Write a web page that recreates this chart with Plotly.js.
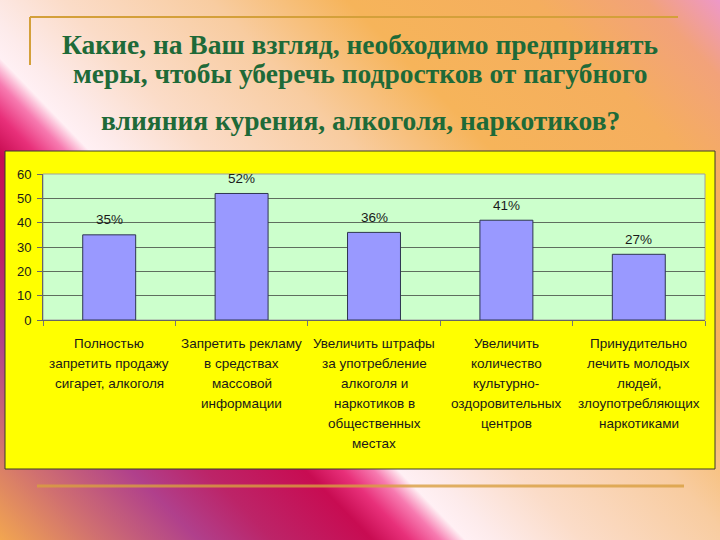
<!DOCTYPE html>
<html>
<head>
<meta charset="utf-8">
<script src="https://cdn.plot.ly/plotly-3.0.1.min.js"></script>
<style>
html, body { margin:0; padding:0; width:720px; height:540px; overflow:hidden; }
body {
  background: linear-gradient(226deg,
    #EE98C8 0%, #F2A27A 6%, #F5AE5E 15%, #F6B45A 30%, #F8CCA0 41%,
    #FBDCC8 53%, #FDEBEB 60%, #FFF0F4 62.5%, #F77AB0 64.5%, #E8307A 67%,
    #C80C52 70%, #BC2468 78%, #B0408C 84%, #D07070 92%, #F2A650 100%);
}
#chart { width:720px; height:540px; }
</style>
</head>
<body>
<div id="chart"></div>
<script>
// ---- data ----
const titleLines = [
  "Какие, на Ваш взгляд, необходимо предпринять",
  "меры, чтобы уберечь подростков от пагубного",
  "влияния курения, алкоголя, наркотиков?"
];
const categoryLines = [
  ["Полностью", "запретить продажу", "сигарет, алкоголя"],
  ["Запретить рекламу", "в средствах", "массовой", "информации"],
  ["Увеличить штрафы", "за употребление", "алкоголя и", "наркотиков в", "общественных", "местах"],
  ["Увеличить", "количество", "культурно-", "оздоровительных", "центров"],
  ["Принудительно", "лечить молодых", "людей,", "злоупотребляющих", "наркотиками"]
];
const categories = categoryLines.map(l => l.join(" "));
const values = [35, 52, 36, 41, 27];
const valueLabels = ["35%", "52%", "36%", "41%", "27%"];
const yTicks = [0, 10, 20, 30, 40, 50, 60];

// ---- layout helpers ----
const W = 720, H = 540;
const M = {l: 43, r: 15, t: 174, b: 220};
const pw = W - M.l - M.r, ph = H - M.t - M.b;
const px = x => (x - M.l) / pw;
const py = y => (H - M.b - y) / ph;

const sansFont = "Liberation Sans, Arial, sans-serif";
const serifFont = "Liberation Serif, Times New Roman, serif";
const titleColor = "#1E6A38";
const titleSize = 27.5;

const annotations = [];
// value labels above bars
categories.forEach((c, i) => {
  annotations.push({
    xref: "x", yref: "y", x: c, y: values[i],
    text: valueLabels[i], showarrow: false,
    yanchor: "middle", yshift: 15,
    font: {family: sansFont, size: 13.5, color: "#1a1a1a"}
  });
});
// multi-line category labels
categoryLines.forEach((lines, i) => {
  lines.forEach((line, j) => {
    annotations.push({
      xref: "x", yref: "paper", x: categories[i], y: 0,
      text: line, showarrow: false,
      yanchor: "middle", yshift: -(23 + j * 20),
      font: {family: sansFont, size: 13.5, color: "#1a1a1a"}
    });
  });
});
// title lines 2 and 3
const titleCenters = [44, 74, 120];
titleLines.slice(1).forEach((t, k) => {
  annotations.push({
    xref: "paper", yref: "paper", x: px(360), y: py(titleCenters[k + 1]),
    text: "<b>" + t + "</b>", showarrow: false,
    xanchor: "center", yanchor: "middle",
    font: {family: serifFont, size: titleSize, color: titleColor}
  });
});

const shapes = [
  // yellow chart box
  {type: "rect", xref: "paper", yref: "paper", layer: "below",
   x0: px(5), x1: px(715), y0: py(469), y1: py(151),
   fillcolor: "#FFFF00", line: {color: "#3a3a2a", width: 1}},
  // green plot area
  {type: "rect", xref: "paper", yref: "paper", layer: "below",
   x0: 0, x1: 1, y0: 0, y1: 1,
   fillcolor: "#CCFFCC", line: {color: "#A0A0A0", width: 1}},
  // decorative gold lines
  {type: "line", xref: "paper", yref: "paper", layer: "below",
   x0: px(30), x1: px(678), y0: py(17), y1: py(17),
   line: {color: "#D4A03A", width: 2}},
  {type: "line", xref: "paper", yref: "paper", layer: "below",
   x0: px(30), x1: px(30), y0: py(17), y1: py(65),
   line: {color: "#D4A03A", width: 2}},
  {type: "line", xref: "paper", yref: "paper", layer: "below",
   x0: px(37), x1: px(684), y0: py(486), y1: py(486),
   opacity: 0.8, line: {color: "#D9A040", width: 3}}
];

const trace = {
  type: "bar",
  x: categories,
  y: values,
  marker: {color: "#9999FF", line: {color: "#2E3550", width: 1}},
  hoverinfo: "x+y"
};

const layout = {
  width: W, height: H,
  margin: M,
  paper_bgcolor: "rgba(0,0,0,0)",
  plot_bgcolor: "rgba(0,0,0,0)",
  showlegend: false,
  bargap: 0.6,
  title: {
    text: "<b>" + titleLines[0] + "</b>",
    x: 0.5, xanchor: "center", xref: "container",
    y: 1 - titleCenters[0] / H, yanchor: "middle", yref: "container",
    font: {family: serifFont, size: titleSize, color: titleColor}
  },
  xaxis: {
    type: "category",
    showticklabels: false,
    ticks: "outside", ticklen: 5, tickcolor: "#777777",
    tickson: "boundaries",
    showline: true, linecolor: "#666666", linewidth: 1,
    showgrid: false, zeroline: false, fixedrange: true
  },
  yaxis: {
    range: [0, 60],
    tickvals: yTicks,
    ticks: "outside", ticklen: 5, tickcolor: "#666666",
    showline: true, linecolor: "#666666", linewidth: 1,
    showgrid: true, gridcolor: "#5E6E5E", gridwidth: 1,
    zeroline: false,
    ticklabelstandoff: 3,
    tickfont: {family: sansFont, size: 13, color: "#1a1a1a"},
    fixedrange: true
  },
  shapes: shapes,
  annotations: annotations
};

Plotly.newPlot("chart", [trace], layout, {displayModeBar: false, staticPlot: true});
</script>
</body>
</html>
